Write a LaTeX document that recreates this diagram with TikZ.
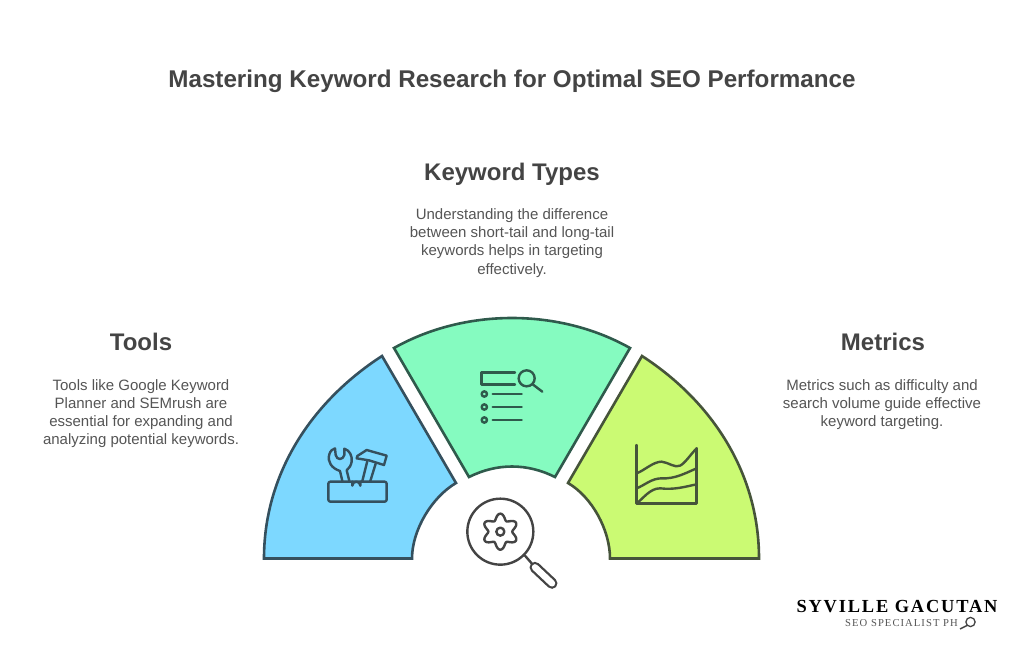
\documentclass[tikz,border=0pt]{standalone}
\usepackage{fontspec}
\setmainfont{Liberation Sans}
\newfontfamily\logofont[LetterSpace=10]{Liberation Serif}
\newfontfamily\logosub[LetterSpace=10]{Liberation Serif}
\definecolor{ink}{HTML}{444444}
\definecolor{body}{HTML}{555555}
\definecolor{skyfill}{HTML}{7DD8FF}
\definecolor{mintfill}{HTML}{85FBC0}
\definecolor{limefill}{HTML}{CBFA73}
\definecolor{skyline}{HTML}{35505E}
\definecolor{mintline}{HTML}{2F5A4C}
\definecolor{limeline}{HTML}{46543A}
\tikzset{
 titletext/.style={text=ink,font=\bfseries\fontsize{24.2}{28}\selectfont,inner sep=0pt},
 headtext/.style={text=ink,font=\bfseries\fontsize{24}{28}\selectfont,inner sep=0pt},
 bodytext/.style={text=body,font=\fontsize{15}{18.2}\selectfont,align=center,inner sep=0pt,anchor=north},
 sector/.style={line width=2.6pt,line join=miter},
 icon/.style={line width=2.4pt,line join=round,line cap=round},
}
\begin{document}
\begin{tikzpicture}[x=1pt,y=-1pt]
\useasboundingbox (0,0) rectangle (1024,653);
\fill[white] (0,0) rectangle (1024,653);
% text
\node[titletext] (title) at (512,81.5) {Mastering Keyword Research for Optimal SEO Performance};
\node[headtext] (htypes) at (512,174.5) {Keyword Types};
\node[bodytext] (btypes) at (512,208.5) {Understanding the difference\\between short-tail and long-tail\\keywords helps in targeting\\effectively.};
\node[headtext] (htools) at (141,342) {Tools};
\node[bodytext] (btools) at (141,379) {Tools like Google Keyword\\Planner and SEMrush are\\essential for expanding and\\analyzing potential keywords.};
\node[headtext] (hmetrics) at (883,342) {Metrics};
\node[bodytext] (bmetrics) at (882,379.5) {Metrics such as difficulty and\\search volume guide effective\\keyword targeting.};
% sectors
\draw[sector,fill=skyfill,draw=skyline] (264,558.5) .. controls (264,474) and (311,402) .. (382,356) -- (456,483) .. controls (432,497) and (412,530) .. (412,558.5) -- cycle;
\draw[sector,fill=mintfill,draw=mintline] (394,348) .. controls (465,308) and (559,308) .. (630,348) -- (555,477) .. controls (527,463) and (497,463) .. (469,477) -- cycle;
\draw[sector,fill=limefill,draw=limeline] (759,558.5) .. controls (759,474) and (713,402) .. (642,356) -- (568,483) .. controls (592,497) and (610,530) .. (610,558.5) -- cycle;
% tools icon
\begin{scope}[shift={(315,435)},x=0.3333pt,y=-0.3333pt,icon,draw=skyline]
\draw[rounded corners=2pt] (40,140) rectangle (215,200);
\draw (112,140) -- (112,152) arc[start angle=180,end angle=360,radius=12] -- (136,140);
\draw (82,138) -- (75,108) .. controls (50,100) and (36,80) .. (43,58) .. controls (46,48) and (52,42) .. (60,40) -- (62,60) .. controls (65,76) and (84,76) .. (88,60) -- (88,41) .. controls (104,46) and (112,62) .. (110,80) .. controls (108,92) and (102,100) .. (95,106) -- (103,138);
\draw (125,70) -- (127,63) -- (155,45) -- (215,62) -- (207,90) -- (162,76) -- cycle;
\draw (157,78) -- (142,138);
\draw (182,86) -- (166,138);
\end{scope}
% list icon
\begin{scope}[shift={(460,355)},x=0.3333pt,y=-0.3333pt,icon,draw=mintline]
\draw (165,53) -- (65,53) -- (65,88) -- (165,88);
\draw (200,70) circle[radius=24];
\draw (218,88) -- (247,110);
\foreach \yy in {117,156,195}{
 \draw (73,\yy) circle[radius=8];
 \draw (98,\yy) -- (185,\yy);
}
\end{scope}
% chart icon
\begin{scope}[shift={(625,435)},x=0.3333pt,y=-0.3333pt,icon,draw=limeline]
\draw (35,30) -- (35,205) -- (215,205) -- (215,40);
\draw (35,115) .. controls (60,105) and (85,80) .. (110,80) .. controls (130,82) and (150,100) .. (165,92) .. controls (180,85) and (195,60) .. (215,40);
\draw (35,160) .. controls (60,150) and (80,130) .. (110,130) .. controls (150,132) and (180,115) .. (215,100);
\draw (35,205) .. controls (55,190) and (75,160) .. (105,160) .. controls (150,165) and (180,155) .. (215,148);
\end{scope}
% gear magnifier
\begin{scope}[shift={(440,470)},x=0.3333pt,y=-0.3333pt,line width=2.4pt,draw=ink,line cap=round,line join=round]
\draw (181,185) circle[radius=99];
\draw (181,185) circle[radius=12];
\draw plot[domain=0:360,samples=145,smooth] ({181+(45+9*cos(6*(\x-90)))*cos(\x)},{185+(45+9*cos(6*(\x-90)))*sin(\x)}) -- cycle;
\draw (255,257) -- (275,280);
\draw[line width=11pt] (285,292) -- (336,340);
\draw[line width=6.4pt,draw=white] (285,292) -- (336,340);
\end{scope}
% logo
\node[inner sep=0pt,text=black,font=\logofont\bfseries\fontsize{18.4}{20}\selectfont] (logo) at (897,607) {SYVILLE GACUTAN};
\node[inner sep=0pt,text=body,font=\logosub\fontsize{10.6}{12}\selectfont,anchor=east] (logosubt) at (958,623) {SEO SPECIALIST PH};
\draw[line width=1.3pt,draw=ink] (970.5,622) circle[radius=4.6];
\draw[line width=1.5pt,draw=ink] (967,625.5) -- (960,629);
\end{tikzpicture}
\end{document}
